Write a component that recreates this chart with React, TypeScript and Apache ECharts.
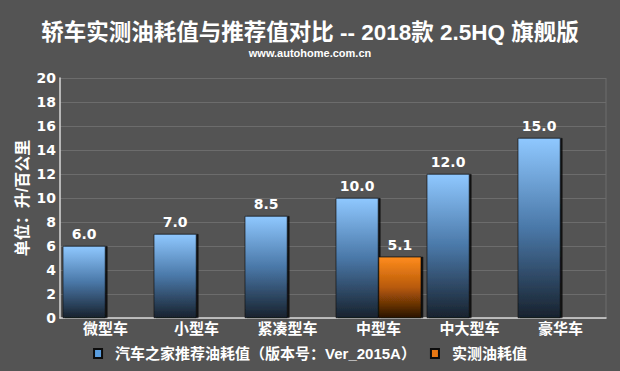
import React, { useEffect, useRef } from "react";
import * as echarts from "echarts";

const categories = ["微型车", "小型车", "紧凑型车", "中型车", "中大型车", "豪华车"];
const recommended = [6.0, 7.0, 8.5, 10.0, 12.0, 15.0];
const measured: (number | null)[] = [null, null, null, 5.1, null, null];
const seriesNames = ["汽车之家推荐油耗值（版本号：Ver_2015A）", "实测油耗值"];
const titleText = "轿车实测油耗值与推荐值对比 -- 2018款 2.5HQ 旗舰版";
const subText = "www.autohome.com.cn";
const yName = "单位：升/百公里";

const FONT = "'Liberation Sans', Arial, 'Noto Sans CJK SC', sans-serif";
const NUMFONT = "'DejaVu Sans', 'Noto Sans CJK SC', sans-serif";

export default function App() {
  const ref = useRef<HTMLDivElement>(null);
  useEffect(() => {
    document.body.style.margin = "0";
    if (!ref.current) return;
    const chart = echarts.init(ref.current, null, { renderer: "svg" });
    const blue = new echarts.graphic.LinearGradient(0, 0, 0, 1, [
      { offset: 0, color: "#8fc8ff" },
      { offset: 0.5, color: "#4a78a8" },
      { offset: 1, color: "#18222e" },
    ]);
    const orange = new echarts.graphic.LinearGradient(0, 0, 0, 1, [
      { offset: 0, color: "#ff8c1e" },
      { offset: 0.5, color: "#b85a08" },
      { offset: 1, color: "#2a1404" },
    ]);
    const labelStyle = {
      show: true,
      position: "top" as const,
      color: "#ffffff",
      fontWeight: "bold" as const,
      fontSize: 14,
      fontFamily: NUMFONT,
      distance: 5,
      formatter: (p: any) => (p.value == null ? "" : Number(p.value).toFixed(1)),
    };
    chart.setOption({
      animation: false,
      backgroundColor: "#545454",
      title: [
        {
          text: titleText,
          left: "center",
          top: 16,
          textStyle: { color: "#ffffff", fontSize: 22.5, fontWeight: "bold", fontFamily: FONT },
        },
        {
          text: subText,
          left: "center",
          top: 42,
          textStyle: { color: "#ffffff", fontSize: 11, fontWeight: "bold", fontFamily: FONT },
        },
      ],
      legend: {
        bottom: 5,
        left: "center",
        itemWidth: 8,
        itemHeight: 9,
        itemGap: 14,
        textStyle: { color: "#ffffff", fontSize: 15, fontWeight: "bold", fontFamily: FONT, padding: [0, 0, 0, 8] },
        data: [
          { name: seriesNames[0], icon: "rect", itemStyle: { color: "#5a9ee0" } },
          { name: seriesNames[1], icon: "rect", itemStyle: { color: "#e87814" } },
        ],
      },
      grid: { left: 60, right: 14, top: 78, bottom: 53 },
      xAxis: {
        type: "category",
        data: categories,
        axisLine: { lineStyle: { color: "#d8d8d8", width: 1.5 } },
        axisTick: { show: false },
        axisLabel: { color: "#ffffff", fontWeight: "bold", fontSize: 15, fontFamily: FONT, margin: 3 },
        splitLine: { show: false },
      },
      yAxis: {
        type: "value",
        min: 0,
        max: 20,
        interval: 2,
        name: yName,
        nameLocation: "middle",
        nameGap: 30,
        nameMoveOverlap: false,
        nameRotate: 90,
        nameTextStyle: { color: "#ffffff", fontWeight: "bold", fontSize: 16, fontFamily: FONT },
        axisLine: { show: true, lineStyle: { color: "#d8d8d8", width: 1.5 } },
        axisTick: { show: false },
        axisLabel: { color: "#ffffff", fontWeight: "bold", fontSize: 14, fontFamily: NUMFONT, margin: 4 },
        splitLine: { lineStyle: { color: "#6c6c6c", width: 1 } },
      },
      series: [
        {
          name: seriesNames[0],
          type: "bar",
          data: recommended,
          barGap: "0%",
          barCategoryGap: "6%",
          itemStyle: {
            color: blue,
            borderColor: "#0c0c0c",
            borderWidth: 0.6,
            shadowColor: "rgba(0,0,0,0.8)",
            shadowOffsetX: 2,
            shadowBlur: 1,
          },
          label: labelStyle,
        },
        {
          name: seriesNames[1],
          type: "bar",
          data: measured,
          itemStyle: {
            color: orange,
            borderColor: "#0c0c0c",
            borderWidth: 0.6,
            shadowColor: "rgba(0,0,0,0.8)",
            shadowOffsetX: 2,
            shadowBlur: 1,
          },
          label: labelStyle,
        },
      ],
      graphic: [
        {
          type: "line",
          shape: { x1: 606, y1: 78, x2: 606, y2: 318 },
          style: { stroke: "#6c6c6c", lineWidth: 1 },
        },
      ],
    });
    return () => chart.dispose();
  }, []);
  return <div ref={ref} style={{ width: 620, height: 371 }} />;
}
